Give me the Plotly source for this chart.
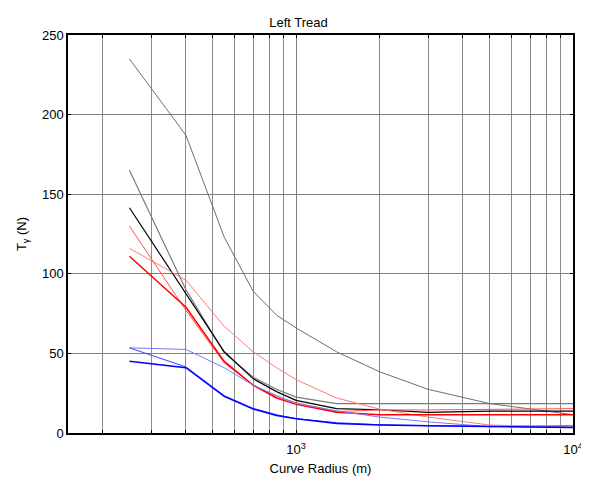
import plotly.graph_objects as go

radius = [250, 400, 550, 700, 850, 1000, 1400, 2000, 3000, 5000, 10000]

s_gray_top = [235, 187, 123, 89, 74, 66, 51, 38.5, 27.4, 18.5, 11.5]
s_gray_dark = [165, 90, 50.5, 35, 27.5, 22.5, 18.5, 18.5, 18.5, 18.5, 18.5]
s_black = [141.5, 87.5, 51, 34, 26, 20.5, 15.3, 14.6, 13, 13.8, 13.8]
s_red = [111, 79, 45, 30, 22, 18, 13, 11.5, 11.5, 11.5, 11.5]
s_red_light = [130, 77, 44, 30, 23, 19, 13.5, 14.5, 14.5, 14.8, 15.3]
s_pink = [116, 96, 67, 51, 41, 33.5, 22, 15, 10, 5, 3.8]
s_blue_light = [53.5, 52.5, 41, 30, 23.5, 18.5, 14, 10, 7, 4, 4.8]
s_blue_mid = [53.5, 41.5, 23.5, 15.5, 11.5, 9, 6.5, 5.2, 4.6, 4.2, 3.6]
s_blue = [45, 41, 23, 15, 11, 9, 6, 5, 4.5, 4, 3.4]

series = [
    (s_gray_top, "#6e6e6e", 1),
    (s_gray_dark, "#7a7a7a", 1.2),
    (s_black, "#000000", 1.2),
    (s_pink, "#ff7a7a", 1),
    (s_red_light, "#ff5050", 1),
    (s_red, "#ff0000", 1.5),
    (s_blue_light, "#7a7aff", 1),
    (s_blue_mid, "#4040ff", 1),
    (s_blue, "#0000ff", 1.5),
]

x_major = [1000, 10000]
x_major_text = ["10<sup>3</sup>", "10<sup>4</sup>"]
x_minor = [200, 300, 400, 500, 600, 700, 800, 900,
           2000, 3000, 4000, 5000, 6000, 7000, 8000, 9000]
y_ticks = [0, 50, 100, 150, 200, 250]

fig = go.Figure()
for ys, col, w in series:
    fig.add_trace(go.Scatter(x=radius, y=ys, mode="lines",
                             line=dict(color=col, width=w), showlegend=False))

FAM = "Liberation Sans, Arial, sans-serif"
font = dict(family=FAM, size=13, color="#000000")

fig.update_layout(
    width=581, height=474,
    margin=dict(l=60, r=16, t=27, b=49, autoexpand=False),
    paper_bgcolor="white", plot_bgcolor="white",
    font=font,
    title=dict(text="Left Tread", x=0.5, xanchor="center", y=0.97, yanchor="middle",
               font=dict(family=FAM, size=13, color="#000")),
    xaxis=dict(type="log", range=[2.1761, 4], tickvals=x_major, ticktext=x_major_text,
               showgrid=True, gridcolor="#808080", gridwidth=1,
               ticks="inside", ticklen=3, tickcolor="#000", mirror="allticks",
               minor=dict(tickvals=x_minor, showgrid=True, gridcolor="#8a8a8a", gridwidth=1,
                          ticks="inside", ticklen=3, tickcolor="#000"),
               showline=True, linecolor="#000", linewidth=1.5, zeroline=False,
               automargin=False, ticklabelstandoff=4,
               title=dict(text="Curve Radius (m)", standoff=8, font=dict(family=FAM, size=13)),
               tickfont=font),
    yaxis=dict(range=[0, 250], tickvals=y_ticks,
               showgrid=True, gridcolor="#808080", gridwidth=1,
               ticks="inside", ticklen=3, tickcolor="#000", mirror="allticks",
               showline=True, linecolor="#000", linewidth=1.5, zeroline=False,
               automargin=False,
               title=dict(text="T<sub>γ</sub> (N)", standoff=12, font=dict(family=FAM, size=13)),
               tickfont=font),
)

fig.write_html("out.html")
